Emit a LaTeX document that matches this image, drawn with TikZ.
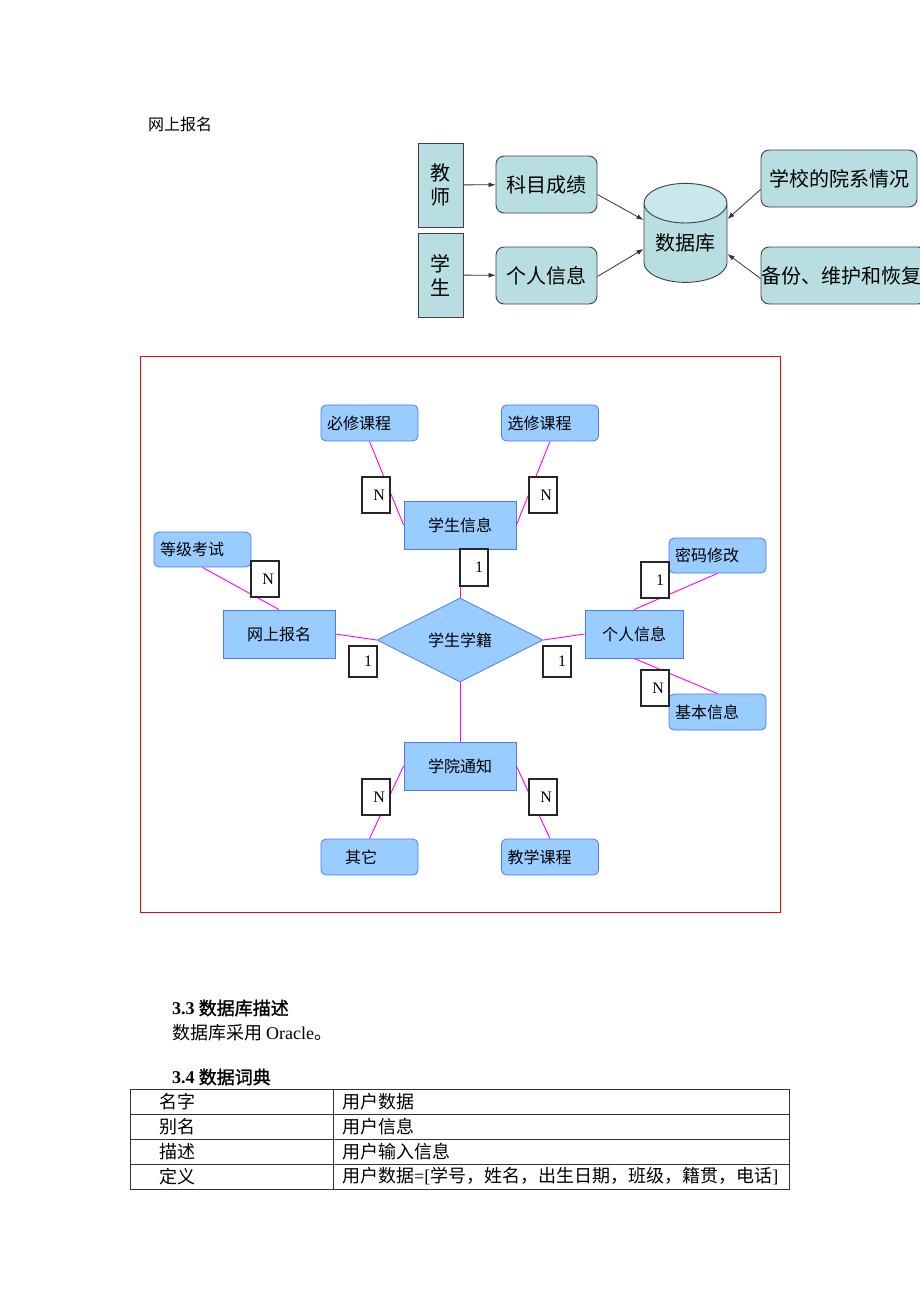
\documentclass[tikz,border=0pt]{standalone}
\usepackage{fontspec}
\setmainfont{Liberation Serif}
\newfontfamily\cjk{Noto Sans CJK SC}
\newfontfamily\cjkbold{Noto Sans CJK SC}[FakeBold=1.5]
\usetikzlibrary{shapes.geometric,arrows.meta}
\definecolor{dbteal}{RGB}{184,222,225}
\definecolor{dbtop}{RGB}{200,232,235}
\definecolor{erfill}{RGB}{153,204,255}
\definecolor{erline}{RGB}{80,120,255}
\definecolor{erlink}{RGB}{255,0,255}

\begin{document}
\begin{tikzpicture}[x=1pt,y=-1pt,
  tealbox/.style={draw=black!75, fill=dbteal, line width=0.9pt, inner sep=0pt, font=\cjk\fontsize{20}{24}\selectfont},
  tealround/.style={tealbox, rounded corners=8pt, minimum height=57pt},
  flow/.style={-{Latex[length=7pt,width=5pt]}, line width=0.8pt, draw=black!80},
  entity/.style={draw=erline, fill=erfill, line width=0.8pt, inner sep=0pt, minimum width=112pt, minimum height=48pt, font=\cjk\fontsize{16}{18}\selectfont},
  attr/.style={entity, rounded corners=5pt, minimum width=97pt, minimum height=36pt, text width=85pt, align=left, inner xsep=6pt},
  card/.style={draw=black!85, fill=white, line width=1.2pt, minimum width=28pt, minimum height=36pt, inner sep=0pt, text width=18pt, align=right, font=\fontsize{16}{18}\selectfont},
  link/.style={draw=erlink, line width=0.9pt},
  plain/.style={inner sep=0pt, anchor=west, font=\cjk\fontsize{18}{22}\selectfont}]
\useasboundingbox (0,0) rectangle (920,1302);

% top: data flow
\node[plain, font=\cjk\fontsize{16}{18}\selectfont] (title) at (148,124) {网上报名};
\node[tealbox, minimum width=45pt, minimum height=84pt, align=center] (jiaoshi) at (440.5,185) {教\\师};
\node[tealbox, minimum width=45pt, minimum height=84pt, align=center] (xuesheng) at (440.5,275) {学\\生};
\node[tealround, minimum width=101pt] (kemu) at (546.5,184.5) {科目成绩};
\node[tealround, minimum width=101pt] (geren) at (546.5,275.5) {个人信息};
\node[draw=black!75, line width=0.9pt, cylinder, shape border rotate=90, aspect=0.66,
  cylinder uses custom fill, cylinder body fill=dbteal, cylinder end fill=dbtop,
  minimum width=83pt, minimum height=99pt, inner sep=0pt, font=\cjk\fontsize{20}{24}\selectfont] (db) at (685.5,243) {数据库};
\node[tealround, minimum width=156pt] (yuanxi) at (839,178.5) {学校的院系情况};
\node[tealround, minimum width=165pt, text width=165pt, align=left] (beifen) at (843.5,275.5) {备份、维护和恢复};
\draw[flow] (jiaoshi) -- (kemu);
\draw[flow] (xuesheng) -- (geren);
\draw[flow] ([yshift=-10pt]kemu.east) -- ([yshift=23pt]db.west);
\draw[flow] ([yshift=-1pt]geren.east) -- ([yshift=-6pt]db.west);
\draw[flow] ([yshift=-11pt]yuanxi.west) -- ([yshift=24pt]db.east);
\draw[flow] ([yshift=-3pt]beifen.west) -- ([yshift=-11pt]db.east);

% E-R diagram
\draw[red, line width=0.8pt] (140,356) rectangle (780,912);
\node[attr] (bixiu) at (369.5,423) {必修课程};
\node[attr] (xuanxiu) at (550,423) {选修课程};
\node[entity] (xsxx) at (460,525) {学生信息};
\node[attr, minimum height=35pt] (dengji) at (202.5,549.5) {等级考试};
\node[entity] (wsbm) at (279,634) {网上报名};
\node[entity, diamond, minimum width=166pt, minimum height=84pt] (xueji) at (460,640) {学生学籍};
\node[entity, minimum width=98pt] (grxx) at (634,634) {个人信息};
\node[attr, minimum height=35pt] (mima) at (717.5,555.5) {密码修改};
\node[attr] (jiben) at (717.5,712) {基本信息};
\node[entity] (tongzhi) at (460,766) {学院通知};
\node[attr] (qita) at (369.5,857) {\hspace*{18pt}其它};
\node[attr] (jiaoxue) at (550,857) {教学课程};
\draw[link] (bixiu.south) -- (xsxx.west);
\draw[link] (xuanxiu.south) -- (xsxx.east);
\draw[link] (xsxx.south) -- (xueji.north);
\draw[link] (dengji.south) -- (wsbm.north);
\draw[link] (wsbm.east) -- (xueji.west);
\draw[link] (xueji.east) -- (grxx.west);
\draw[link] (grxx.north) -- (mima.south);
\draw[link] (grxx.south) -- (jiben.north);
\draw[link] (xueji.south) -- (tongzhi.north);
\draw[link] (tongzhi.west) -- (qita.north);
\draw[link] (tongzhi.east) -- (jiaoxue.north);
\node[card] (nbixiu) at (376,495) {N};
\node[card] (nxuanxiu) at (543,495) {N};
\node[card, minimum height=37pt] (oxsxx) at (474,567.5) {1};
\node[card] (ndengji) at (265,579) {N};
\node[card, minimum height=31pt] (owsbm) at (363,661.5) {1};
\node[card, minimum height=31pt] (ogrxx) at (557,661.5) {1};
\node[card] (omima) at (655,580) {1};
\node[card] (njiben) at (655,688) {N};
\node[card] (nqita) at (376,797) {N};
\node[card] (njiaoxue) at (543,797) {N};

% text and data dictionary
\node[plain] (h33) at (172,1008) {{\rmfamily\bfseries 3.3} {\cjkbold 数据库描述}};
\node[plain] (p33) at (172,1033) {数据库采用 {\rmfamily Oracle}。};
\node[plain] (h34) at (172,1077) {{\rmfamily\bfseries 3.4} {\cjkbold 数据词典}};
\draw[black!80, line width=0.9pt] (130.5,1089) rectangle (789,1189);
\foreach \y in {1114,1139,1164} \draw[black!80, line width=0.9pt] (130.5,\y) -- (789,\y);
\draw[black!80, line width=0.9pt] (333,1089) -- (333,1189);
\node[plain] (k1) at (159,1102) {名字};
\node[plain] (k2) at (159,1126.5) {别名};
\node[plain] (k3) at (159,1151.5) {描述};
\node[plain] (k4) at (159,1176.5) {定义};
\node[plain] (v1) at (342,1102) {用户数据};
\node[plain] (v2) at (342,1126.5) {用户信息};
\node[plain] (v3) at (342,1151.5) {用户输入信息};
\node[plain] (v4) at (342,1176.5) {用户数据{\rmfamily =[}学号，姓名，出生日期，班级，籍贯，电话{\rmfamily ]}};
\end{tikzpicture}
\end{document}
